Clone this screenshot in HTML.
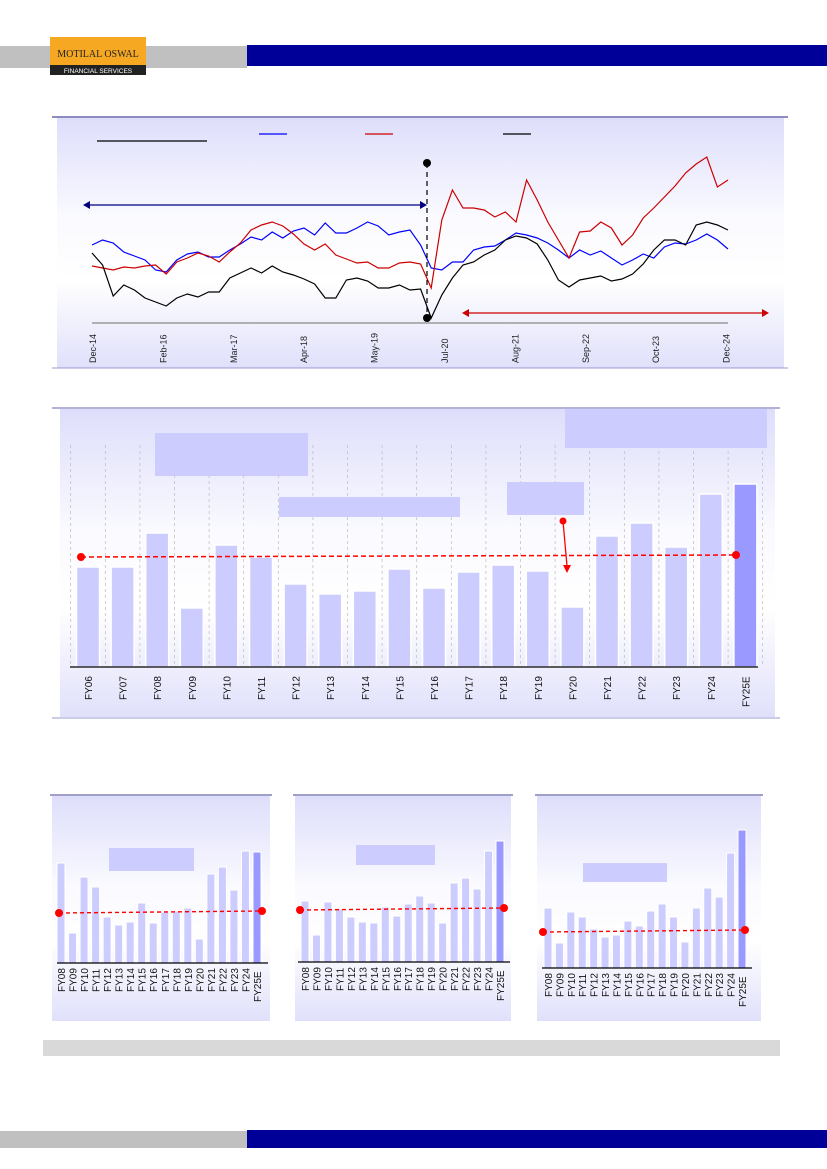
<!DOCTYPE html>
<html><head><meta charset="utf-8"><style>
body{margin:0;width:827px;height:1169px;background:#fff;position:relative;overflow:hidden;font-family:"Liberation Sans",sans-serif}
svg{position:absolute;left:0;top:0}
</style></head><body>
<svg id="s" width="827" height="1169" xmlns="http://www.w3.org/2000/svg">
<defs>
<linearGradient id="pg" x1="0" y1="0" x2="0" y2="1"><stop offset="0" stop-color="#dedefb"/><stop offset="0.4" stop-color="#fafaff"/><stop offset="0.65" stop-color="#ffffff"/><stop offset="1" stop-color="#e0e0fb"/></linearGradient>
</defs>
<rect x="0" y="46" width="247" height="22" fill="#c0c0c0"/>
<rect x="247" y="45" width="580" height="21" fill="#000099"/>
<g>
<rect x="50" y="37" width="96" height="28" fill="#f7a823"/>
<rect x="50" y="65" width="96" height="10" fill="#222"/>
<text x="98" y="57" font-size="10" text-anchor="middle" fill="#222" font-family="Liberation Serif,serif">MOTILAL OSWAL</text>
<text x="98" y="73" font-size="6.5" text-anchor="middle" fill="#fff">FINANCIAL SERVICES</text>
</g>
<rect x="0" y="1131" width="247" height="17" fill="#c0c0c0"/>
<rect x="247" y="1130" width="580" height="18" fill="#000099"/>
<rect x="43" y="1040" width="737" height="16" fill="#d9d9d9"/>
<g id="c1"></g>
<g id="c2"></g>
<g id="c3"></g>
</svg>
<script>
const NS="http://www.w3.org/2000/svg";
function mk(p,t,a){const e=document.createElementNS(NS,t);for(const k in a)e.setAttribute(k,a[k]);p.appendChild(e);return e;}
// ---- chart 1 data ----
const dateLabels=["Dec-14","Feb-16","Mar-17","Apr-18","May-19","Jul-20","Aug-21","Sep-22","Oct-23","Dec-24"];
const blueSeries=[78,83,80,71,67,63,53,51,63,69,71,66,66,73,79,86,83,91,85,92,95,88,100,90,90,95,101,97,88,91,93,78,55,53,61,61,73,76,77,83,90,88,85,80,73,65,73,68,72,65,58,63,69,65,76,80,79,83,89,83,74];
const redSeries=[57,55,53,56,55,57,58,49,61,65,70,67,61,71,80,93,98,101,97,89,79,73,79,68,64,60,61,55,55,60,61,59,35,103,133,115,115,113,106,111,101,143,123,101,83,65,91,92,101,95,78,88,105,115,126,137,150,159,166,136,143];
const blackSeries=[70,58,27,38,33,25,21,17,25,29,26,31,31,45,50,55,50,57,51,48,44,39,25,25,43,45,42,35,35,38,33,34,5,28,45,58,61,68,73,83,87,85,79,63,43,36,43,45,47,42,44,49,59,73,83,83,78,98,101,98,93];
(function(){
const g=document.getElementById('c1');
mk(g,'rect',{x:57,y:118,width:727,height:250,fill:'url(#pg)'});
mk(g,'line',{x1:52,y1:117,x2:788,y2:117,stroke:'#6666aa','stroke-width':1.5});
mk(g,'line',{x1:52,y1:368,x2:788,y2:368,stroke:'#9999cc','stroke-width':1});
const X=i=>92+i*(636/60), Y=v=>323-v;
const ax=mk(g,'line',{x1:92,y1:323,x2:728,y2:323,stroke:'#888','stroke-width':1.2});

dateLabels.forEach((d,i)=>{const x=92+i*70.4;const t=mk(g,'text',{transform:`translate(${x+4},363) rotate(-90)`,'font-size':9,fill:'#222'});t.textContent=d;
});
[[blueSeries,'#0000ff','blue-series-line'],[redSeries,'#cc0000','red-series-line'],[blackSeries,'#000','black-series-line']].forEach(([s,c,n])=>{
const p=mk(g,'polyline',{points:s.map((v,i)=>X(i)+','+Y(v)).join(' '),fill:'none',stroke:c,'stroke-width':1.2});
});
mk(g,'line',{x1:97,y1:141,x2:207,y2:141,stroke:'#000','stroke-width':1.2});
[[259,'#0000ff'],[365,'#cc0000'],[503,'#000']].forEach(([x,c])=>{const l=mk(g,'line',{x1:x,y1:134,x2:x+28,y2:134,stroke:c,'stroke-width':1.3});});
mk(g,'line',{x1:427,y1:163,x2:427,y2:318,stroke:'#000','stroke-dasharray':'5,4','stroke-width':1.2});
mk(g,'circle',{cx:427,cy:163,r:4,fill:'#000'});mk(g,'circle',{cx:427,cy:318,r:4,fill:'#000'});
mk(g,'line',{x1:88,y1:205,x2:422,y2:205,stroke:'#000080','stroke-width':1.3});
mk(g,'polygon',{points:'83,205 90,201 90,209',fill:'#000080'});mk(g,'polygon',{points:'427,205 420,201 420,209',fill:'#000080'});
mk(g,'line',{x1:467,y1:313,x2:764,y2:313,stroke:'#cc0000','stroke-width':1.3});
mk(g,'polygon',{points:'462,313 469,309 469,317',fill:'#cc0000'});mk(g,'polygon',{points:'769,313 762,309 762,317',fill:'#cc0000'});
})();
// ---- chart 2 data ----
const fyCats=["FY06","FY07","FY08","FY09","FY10","FY11","FY12","FY13","FY14","FY15","FY16","FY17","FY18","FY19","FY20","FY21","FY22","FY23","FY24","FY25E"];
const fyValues=[100,100,134,59,122,110,83,73,76,98,79,95,102,96,60,131,144,120,173,183];
const fyAvg=[110,112];
(function(){
const g=document.getElementById('c2');
mk(g,'rect',{x:60,y:409,width:715,height:308,fill:'url(#pg)'});
mk(g,'line',{x1:52,y1:408,x2:780,y2:408,stroke:'#9999cc','stroke-width':1.5});
mk(g,'line',{x1:52,y1:718,x2:780,y2:718,stroke:'#9999cc','stroke-width':1});
const step=34.6,X=i=>88+i*step,Y=v=>667-v;
for(let i=0;i<=20;i++){mk(g,'line',{x1:X(i)-step/2,y1:445,x2:X(i)-step/2,y2:667,stroke:'#bbb','stroke-dasharray':'3,3','stroke-width':0.7});}
[[155,433,153,43],[279,497,181,20],[507,482,77,33],[565,409,202,39]].forEach(r=>{const e=mk(g,'rect',{x:r[0],y:r[1],width:r[2],height:r[3],fill:'#ccccff'});});
fyCats.forEach((c,i)=>{
const b=mk(g,'rect',{x:X(i)-11.5,y:Y(fyValues[i]),width:23,height:fyValues[i],fill:i==19?'#9999ff':'#ccccff',stroke:'#fff','stroke-width':1.5});

const t=mk(g,'text',{transform:`translate(${X(i)+4},${c.length>4?707:700}) rotate(-90)`,'font-size':10,fill:'#111'});t.textContent=c;
});
mk(g,'line',{x1:70,y1:667,x2:758,y2:667,stroke:'#000','stroke-width':1.3});
const a=mk(g,'line',{x1:81,y1:Y(fyAvg[0]),x2:736,y2:Y(fyAvg[1]),stroke:'#ff0000','stroke-dasharray':'5,3','stroke-width':1.5});

mk(g,'circle',{cx:81,cy:Y(fyAvg[0]),r:4,fill:'#f00'});mk(g,'circle',{cx:736,cy:Y(fyAvg[1]),r:4,fill:'#f00'});
mk(g,'circle',{cx:563,cy:521,r:3.5,fill:'#f00'});mk(g,'line',{x1:563,y1:521,x2:567,y2:566,stroke:'#f00','stroke-width':1.3});
mk(g,'polygon',{points:'563,565 571,565 567,573',fill:'#f00'});
})();
// ---- small charts data ----
const smallCats=["FY08","FY09","FY10","FY11","FY12","FY13","FY14","FY15","FY16","FY17","FY18","FY19","FY20","FY21","FY22","FY23","FY24","FY25E"];
const panelAValues=[100,30,86,76,46,38,41,60,40,51,52,55,24,89,96,73,112,111];
const panelBValues=[61,27,60,53,45,40,39,55,46,58,66,59,39,79,84,73,111,121];
const panelCValues=[60,25,56,51,39,31,33,47,42,57,64,51,26,60,80,71,115,138];
const panelAvgs=[51,53,37];
(function(){
const g=document.getElementById('c3');
const cfg=[{v:panelAValues,x0:61,x1:257,base:963,px:50,pw:222,box:[109,848,85,23],ax:[57,268],av:[59,262]},
{v:panelBValues,x0:305,x1:500,base:962,px:293,pw:220,box:[356,845,79,20],ax:[298,510],av:[300,504]},
{v:panelCValues,x0:548,x1:742,base:968,px:535,pw:228,box:[583,863,84,19],ax:[542,752],av:[543,745]}];
cfg.forEach((c,k)=>{
const pg=mk(g,'g',{});
mk(pg,'rect',{x:c.px+2,y:796,width:c.pw-4,height:225,fill:'url(#pg)'});
mk(pg,'line',{x1:c.px,y1:795,x2:c.px+c.pw,y2:795,stroke:'#6666aa','stroke-width':1.2});
mk(pg,'rect',{x:c.box[0],y:c.box[1],width:c.box[2],height:c.box[3],fill:'#ccccff'});
const st=(c.x1-c.x0)/17,X=i=>c.x0+i*st,Y=v=>c.base-v;
smallCats.forEach((cat,i)=>{
const b=mk(pg,'rect',{x:X(i)-4,y:Y(c.v[i]),width:8,height:c.v[i],fill:i==17?'#9999ff':'#ccccff',stroke:'#fff','stroke-width':1});

const t=mk(pg,'text',{transform:`translate(${X(i)+4},${c.base+(cat.length>4?39:29)}) rotate(-90)`,'font-size':10,fill:'#111'});t.textContent=cat;
});
mk(pg,'line',{x1:c.ax[0],y1:c.base,x2:c.ax[1],y2:c.base,stroke:'#000','stroke-width':1.2});
const ay=Y(panelAvgs[k]);
const l=mk(pg,'line',{x1:c.av[0],y1:ay+1,x2:c.av[1],y2:ay-1,stroke:'#f00','stroke-dasharray':'4,3','stroke-width':1.4});

mk(pg,'circle',{cx:c.av[0],cy:ay+1,r:4,fill:'#f00'});mk(pg,'circle',{cx:c.av[1],cy:ay-1,r:4,fill:'#f00'});
});
})();
</script>
</body></html>
